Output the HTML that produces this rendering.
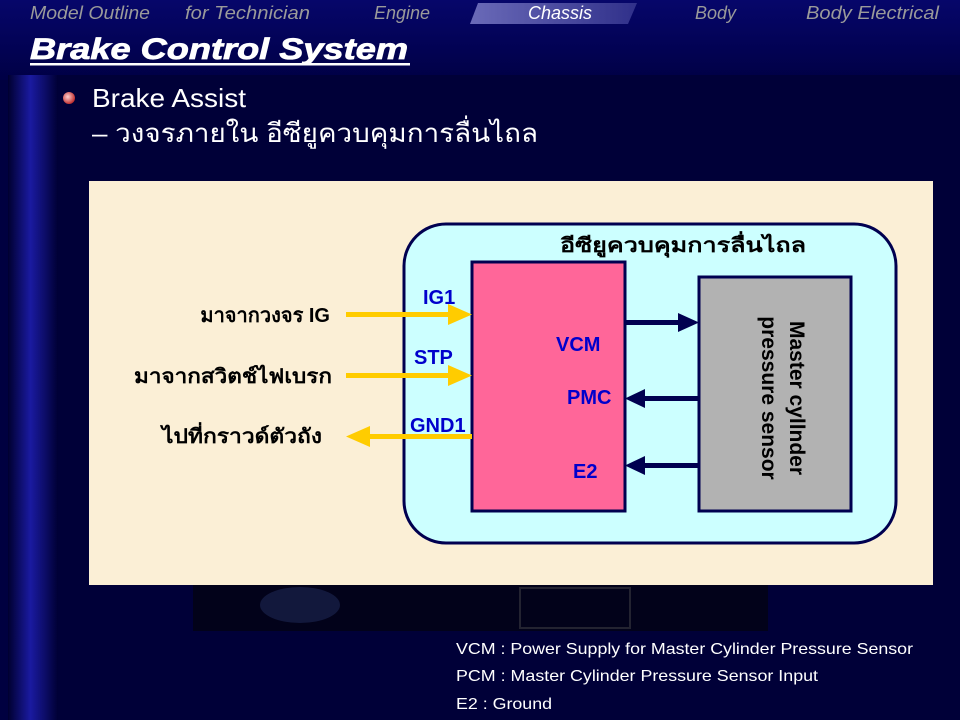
<!DOCTYPE html>
<html><head><meta charset="utf-8"><style>
html,body{margin:0;padding:0;background:#000040;width:960px;height:720px;overflow:hidden}
svg{display:block}
text{font-family:"Liberation Sans","Noto Sans CJK SC",sans-serif}
</style></head><body>
<svg width="960" height="720" viewBox="0 0 960 720" xmlns="http://www.w3.org/2000/svg">
<defs>
<linearGradient id="bar" x1="0" x2="1" y1="0" y2="0">
<stop offset="0" stop-color="#000030"/><stop offset="0.45" stop-color="#1a1aa0"/><stop offset="1" stop-color="#000035"/>
</linearGradient>
<linearGradient id="top" x1="0" x2="0" y1="0" y2="1">
<stop offset="0" stop-color="#06066a"/><stop offset="1" stop-color="#000045"/>
</linearGradient>
<linearGradient id="tab" x1="0" x2="1"><stop offset="0" stop-color="#6a6ab8"/><stop offset="1" stop-color="#30308a"/></linearGradient>
<radialGradient id="bul" cx="0.4" cy="0.4" r="0.6"><stop offset="0" stop-color="#ffd0d0"/><stop offset="1" stop-color="#c03030"/></radialGradient>
</defs>
<rect width="960" height="720" fill="#000040"/>
<rect width="960" height="80" fill="url(#top)"/>
<rect x="8" y="75" width="50" height="645" fill="url(#bar)"/>
<rect x="58" y="75" width="902" height="645" fill="#000038"/>
<!-- nav -->
<polygon points="478,3 637,3 628,24 470,24" fill="url(#tab)"/>
<g font-size="18" font-style="italic" fill="#9a9a9a">
<text x="30" y="19" textLength="120" lengthAdjust="spacingAndGlyphs">Model Outline</text>
<text x="185" y="19" textLength="125" lengthAdjust="spacingAndGlyphs">for Technician</text>
<text x="374" y="19">Engine</text>
<text x="528" y="19" fill="#ffffff">Chassis</text>
<text x="695" y="19">Body</text>
<text x="806" y="19" textLength="133" lengthAdjust="spacingAndGlyphs">Body Electrical</text>
</g>
<text x="30" y="59" font-size="30" font-weight="bold" font-style="italic" fill="#fff" textLength="378" lengthAdjust="spacingAndGlyphs" stroke="#fff" stroke-width="0.8">Brake Control System</text>
<rect x="30" y="63" width="380" height="2.5" fill="#fff"/>
<circle cx="69" cy="98" r="6" fill="url(#bul)"/>
<text x="92" y="107" font-size="26" fill="#fff" textLength="154" lengthAdjust="spacingAndGlyphs">Brake Assist</text>
<text x="92" y="142" font-size="26" fill="#fff" textLength="446" lengthAdjust="spacingAndGlyphs">–  วงจรภายใน อีซียูควบคุมการลื่นไถล</text>
<!-- image strip -->
<rect x="193" y="585" width="575" height="46" fill="#02021a"/>
<ellipse cx="300" cy="605" rx="40" ry="18" fill="#2a3a70" opacity="0.4"/>
<rect x="520" y="588" width="110" height="40" fill="none" stroke="#555" stroke-width="2" opacity="0.4"/>
<!-- panel -->
<rect x="89" y="181" width="844" height="404" fill="#fbefd6"/>
<rect x="404" y="224" width="492" height="319" rx="42" fill="#ccffff" stroke="#000050" stroke-width="3"/>
<text x="683" y="252" font-size="20" font-weight="bold" text-anchor="middle" fill="#000" textLength="246" lengthAdjust="spacingAndGlyphs">อีซียูควบคุมการลื่นไถล</text>
<rect x="472" y="262" width="153" height="249" fill="#ff6699" stroke="#000050" stroke-width="3"/>
<rect x="699" y="277" width="152" height="234" fill="#b2b2b2" stroke="#000050" stroke-width="3"/>
<g transform="translate(790,398) rotate(90)" font-size="21" font-weight="bold" fill="#000" text-anchor="middle">
<text x="0" y="0">Master cyllnder</text>
<text x="0" y="28">pressure sensor</text>
</g>
<!-- yellow arrows -->
<g fill="#ffcc00">
<rect x="346" y="312" width="104" height="5"/><polygon points="448,304 472,314.5 448,325"/>
<rect x="346" y="373" width="104" height="5"/><polygon points="448,365 472,375.5 448,386"/>
<rect x="368" y="434" width="104" height="5"/><polygon points="370,426 346,436.5 370,447"/>
</g>
<!-- navy arrows -->
<g fill="#000050">
<rect x="625" y="320" width="56" height="5"/><polygon points="678,313 699,322.5 678,332"/>
<rect x="642" y="396" width="57" height="5"/><polygon points="645,389 625,398.5 645,408"/>
<rect x="642" y="463" width="57" height="5"/><polygon points="645,456 625,465.5 645,475"/>
</g>
<g font-size="20" font-weight="bold" fill="#0000cc">
<text x="423" y="304">IG1</text>
<text x="414" y="364">STP</text>
<text x="410" y="432">GND1</text>
<text x="556" y="351">VCM</text>
<text x="567" y="404">PMC</text>
<text x="573" y="478">E2</text>
</g>
<g font-size="20" font-weight="bold" fill="#000" text-anchor="end">
<text x="330" y="322">มาจากวงจร IG</text>
<text x="332" y="383" textLength="198" lengthAdjust="spacingAndGlyphs">มาจากสวิตช์ไฟเบรก</text>
<text x="322" y="443" textLength="160" lengthAdjust="spacingAndGlyphs">ไปที่กราวด์ตัวถัง</text>
</g>
<g font-size="16" fill="#fff">
<text x="456" y="654" textLength="457" lengthAdjust="spacingAndGlyphs">VCM : Power Supply for Master Cylinder Pressure Sensor</text>
<text x="456" y="681" textLength="362" lengthAdjust="spacingAndGlyphs">PCM : Master Cylinder Pressure Sensor Input</text>
<text x="456" y="709" textLength="96" lengthAdjust="spacingAndGlyphs">E2 : Ground</text>
</g>
</svg>
</body></html>
